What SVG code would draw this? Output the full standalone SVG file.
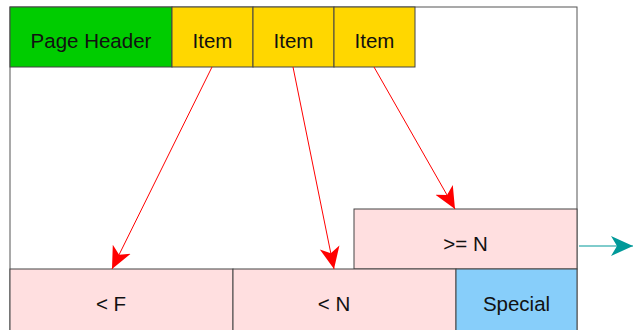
<svg xmlns="http://www.w3.org/2000/svg" width="633" height="330" viewBox="0 0 633 330">
<defs>
<style>
.b{stroke:#444;stroke-width:1}
.t{font-family:"Liberation Sans",Arial,sans-serif;font-size:20.5px;fill:#111;text-anchor:middle;dominant-baseline:central}
.red{stroke:#ff0000;stroke-width:1;fill:none}
</style>
<marker id="rh" viewBox="0 0 24 24" refX="22" refY="12" markerWidth="24" markerHeight="24" markerUnits="userSpaceOnUse" orient="auto">
<path d="M0,2 L22,12 L0,22 L6,12 Z" fill="#ff0000"/>
</marker>
<marker id="th" viewBox="0 0 24 24" refX="22" refY="12" markerWidth="24" markerHeight="24" markerUnits="userSpaceOnUse" orient="auto">
<path d="M0,2 L22,12 L0,22 L6,12 Z" fill="#009999"/>
</marker>
</defs>
<rect width="633" height="330" fill="#fff"/>
<g id="frame"><rect x="10" y="7" width="567" height="330" fill="none" stroke="#555" stroke-width="1"/></g>
<g id="pageheader"><rect class="b" x="10" y="7" width="162" height="60" fill="#00cc00"/><text class="t" x="91" y="40">Page Header</text></g>
<g id="item1"><rect class="b" x="172" y="7" width="81" height="60" fill="#ffd700"/><text class="t" x="212.5" y="40">Item</text></g>
<g id="item2"><rect class="b" x="253" y="7" width="81" height="60" fill="#ffd700"/><text class="t" x="293.5" y="40">Item</text></g>
<g id="item3"><rect class="b" x="334" y="7" width="81" height="60" fill="#ffd700"/><text class="t" x="374.5" y="40">Item</text></g>
<g id="gen"><rect class="b" x="354" y="209" width="223" height="60" fill="#ffdfe0"/><text class="t" x="465.5" y="243">&gt;= N</text></g>
<g id="ltf"><rect class="b" x="10" y="269" width="223" height="70" fill="#ffdfe0"/><text class="t" x="111" y="303">&lt; F</text></g>
<g id="ltn"><rect class="b" x="233" y="269" width="223" height="70" fill="#ffdfe0"/><text class="t" x="334" y="303">&lt; N</text></g>
<g id="special"><rect class="b" x="456" y="269" width="121" height="70" fill="#87cefa"/><text class="t" x="516.5" y="303">Special</text></g>
<g id="connectors">
<line class="red" x1="212" y1="67" x2="112" y2="269" marker-end="url(#rh)"/>
<line class="red" x1="293" y1="67" x2="334" y2="269" marker-end="url(#rh)"/>
<line class="red" x1="374" y1="67" x2="455" y2="209" marker-end="url(#rh)"/>
<line x1="579" y1="246" x2="633" y2="246" stroke="#009999" stroke-width="1" marker-end="url(#th)"/>
</g>
</svg>
